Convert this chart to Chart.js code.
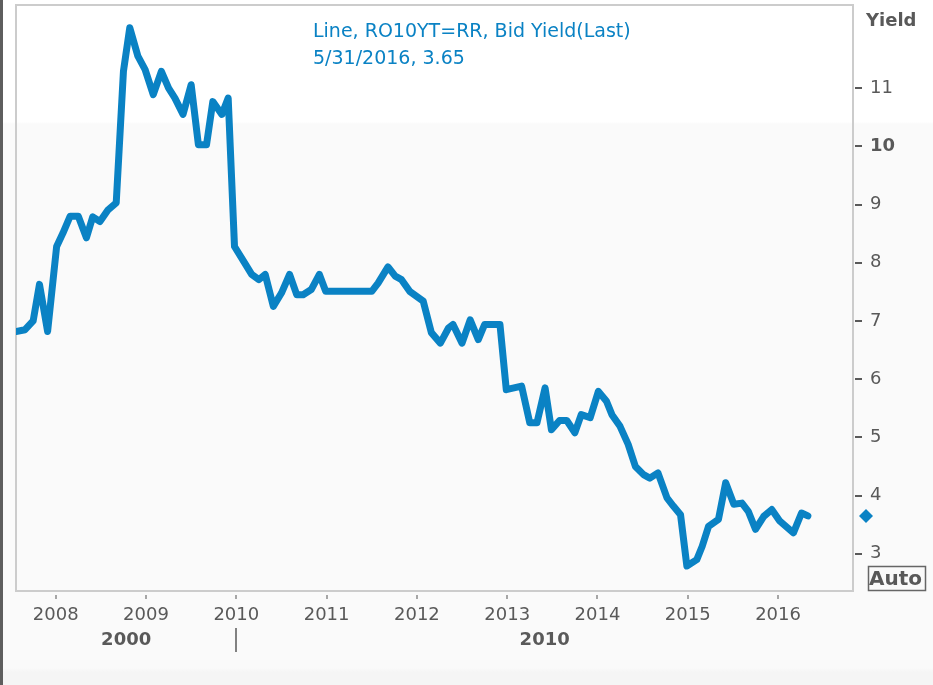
<!DOCTYPE html>
<html>
<head>
<meta charset="utf-8">
<script src="https://cdn.jsdelivr.net/npm/chart.js@4/dist/chart.umd.min.js"></script>
<style>
    html, body { margin: 0; padding: 0; }
    body {
        width: 933px; height: 685px; overflow: hidden;
        background: linear-gradient(to bottom, #ffffff 0px, #ffffff 122px, #fafafa 124px, #fafafa 668px, #f5f5f5 672px, #f5f5f5 685px);
    }
    #chart { display: block; }
</style>
</head>
<body>
<canvas id="chart" width="933" height="685"></canvas>
<script>
const years = [
    2007.56, 2007.66, 2007.75, 2007.82, 2007.91, 2008.01, 2008.08, 2008.16, 2008.25, 2008.34,
    2008.41, 2008.49, 2008.58, 2008.67, 2008.75, 2008.82, 2008.91, 2008.99, 2009.08, 2009.17,
    2009.25, 2009.32, 2009.41, 2009.50, 2009.58, 2009.67, 2009.74, 2009.84, 2009.91, 2009.98,
    2010.08, 2010.17, 2010.25, 2010.32, 2010.41, 2010.50, 2010.59, 2010.67, 2010.74, 2010.83,
    2010.92, 2010.99, 2011.50, 2011.57, 2011.68, 2011.76, 2011.83, 2011.92, 2012.07, 2012.16,
    2012.26, 2012.35, 2012.40, 2012.50, 2012.59, 2012.68, 2012.75, 2012.92, 2012.99, 2013.16,
    2013.25, 2013.33, 2013.42, 2013.49, 2013.58, 2013.66, 2013.75, 2013.82, 2013.92, 2014.01,
    2014.10, 2014.16, 2014.25, 2014.34, 2014.42, 2014.51, 2014.58, 2014.67, 2014.77, 2014.84,
    2014.92, 2014.99, 2015.10, 2015.16, 2015.23, 2015.34, 2015.42, 2015.51, 2015.60, 2015.67,
    2015.75, 2015.84, 2015.93, 2016.02, 2016.17, 2016.26, 2016.33
];
const yields = [
    6.82, 6.85, 7.00, 7.63, 6.82, 8.28, 8.51, 8.80, 8.80, 8.43,
    8.79, 8.71, 8.91, 9.03, 11.29, 12.04, 11.55, 11.32, 10.89, 11.29,
    11.00, 10.83, 10.55, 11.06, 10.03, 10.03, 10.77, 10.55, 10.83, 8.28,
    8.03, 7.80, 7.71, 7.80, 7.25, 7.48, 7.80, 7.45, 7.45, 7.54,
    7.80, 7.51, 7.51, 7.65, 7.93, 7.77, 7.71, 7.51, 7.34, 6.80,
    6.62, 6.88, 6.94, 6.62, 7.02, 6.68, 6.94, 6.94, 5.82, 5.88,
    5.25, 5.25, 5.85, 5.13, 5.29, 5.29, 5.08, 5.39, 5.34, 5.79,
    5.62, 5.39, 5.19, 4.88, 4.50, 4.36, 4.30, 4.39, 3.96, 3.82,
    3.67, 2.79, 2.90, 3.13, 3.47, 3.59, 4.22, 3.85, 3.87, 3.73,
    3.42, 3.64, 3.76, 3.56, 3.36, 3.70, 3.65
];

const xTicks = [2008, 2009, 2010, 2011, 2012, 2013, 2014, 2015, 2016];
const yTicks = [3, 4, 5, 6, 7, 8, 9, 10, 11];
const boldYTick = 10;

// decade row under the year labels: label, from, to
const decades = [
    { label: '2000', from: 2007.56, to: 2010 },
    { label: '2010', from: 2010, to: 2016.83 }
];

const lastDate = '5/31/2016';
const lastValue = 3.65;
const seriesName = 'Line, RO10YT=RR, Bid Yield(Last)';

const BLUE = '#0a82c4';
const GREY = '#595959';
const FONT = '"DejaVu Sans", Verdana, sans-serif';

const decor = {
    id: 'decor',
    beforeDatasetsDraw(chart) {
        const { ctx, chartArea: a } = chart;
        ctx.save();
        ctx.strokeStyle = '#cccccc';
        ctx.lineWidth = 2;
        ctx.strokeRect(a.left, a.top, a.right - a.left, a.bottom - a.top);
        ctx.restore();
    },
    afterDraw(chart) {
        const { ctx, chartArea: a } = chart;
        const xs = chart.scales.x, ys = chart.scales.y;
        ctx.save();

        // left edge bar
        ctx.fillStyle = '#5e5e5e';
        ctx.fillRect(0, 0, 3, chart.height);

        // y tick marks
        ctx.strokeStyle = GREY;
        ctx.lineWidth = 2;
        yTicks.forEach(v => {
            const y = Math.round(ys.getPixelForValue(v));
            ctx.beginPath();
            ctx.moveTo(a.right + 2, y);
            ctx.lineTo(a.right + 9, y);
            ctx.stroke();
        });

        // x tick marks
        ctx.strokeStyle = '#8a8a8a';
        ctx.lineWidth = 1.5;
        xTicks.forEach(v => {
            const x = Math.round(xs.getPixelForValue(v));
            ctx.beginPath();
            ctx.moveTo(x, a.bottom + 4);
            ctx.lineTo(x, a.bottom + 8);
            ctx.stroke();
        });

        // decade labels
        ctx.fillStyle = GREY;
        ctx.font = 'bold 18px ' + FONT;
        ctx.textAlign = 'center';
        ctx.textBaseline = 'middle';
        decades.forEach(d => {
            const x = (xs.getPixelForValue(d.from) + xs.getPixelForValue(d.to)) / 2;
            ctx.fillText(d.label, x, 640);
        });
        ctx.strokeStyle = GREY;
        ctx.lineWidth = 1.5;
        const sep = Math.round(xs.getPixelForValue(decades[1].from));
        ctx.beginPath();
        ctx.moveTo(sep, 628);
        ctx.lineTo(sep, 652);
        ctx.stroke();

        // axis title
        ctx.textAlign = 'left';
        ctx.fillText('Yield', 866, 21);

        // Auto box
        ctx.strokeStyle = '#666666';
        ctx.lineWidth = 1.5;
        ctx.strokeRect(868.5, 566.5, 57, 24);
        ctx.font = 'bold 20px ' + FONT;
        ctx.fillText('Auto', 869, 580);

        // last value diamond
        const dy = ys.getPixelForValue(lastValue);
        ctx.fillStyle = BLUE;
        ctx.beginPath();
        ctx.moveTo(866, dy - 7);
        ctx.lineTo(873, dy);
        ctx.lineTo(866, dy + 7);
        ctx.lineTo(859, dy);
        ctx.closePath();
        ctx.fill();

        // legend
        ctx.fillStyle = BLUE;
        ctx.font = '19px ' + FONT;
        ctx.fillText(seriesName, 313, 32);
        ctx.fillText(lastDate + ', ' + lastValue.toFixed(2), 313, 59);

        ctx.restore();
    }
};

new Chart(document.getElementById('chart'), {
    type: 'line',
    data: {
        datasets: [{
            data: years.map((x, i) => ({ x: x, y: yields[i] })),
            borderColor: BLUE,
            borderWidth: 7,
            borderJoinStyle: 'round',
            borderCapStyle: 'round',
            pointRadius: 0,
            tension: 0,
            fill: false
        }]
    },
    options: {
        responsive: false,
        animation: false,
        layout: { autoPadding: false, padding: { left: 16, top: 5, right: 0, bottom: 0 } },
        plugins: {
            legend: { display: false },
            tooltip: { enabled: false }
        },
        scales: {
            x: {
                type: 'linear',
                min: 2007.56,
                max: 2016.83,
                afterBuildTicks: s => { s.ticks = xTicks.map(v => ({ value: v })); },
                afterFit: s => { s.height = 94; s.paddingLeft = 0; s.paddingRight = 0; },
                grid: { display: false },
                border: { display: false },
                ticks: {
                    color: GREY,
                    font: { family: FONT, size: 18 },
                    padding: 6,
                    maxRotation: 0,
                    callback: v => String(v)
                }
            },
            y: {
                position: 'right',
                min: 2.36,
                max: 12.43,
                afterBuildTicks: s => { s.ticks = yTicks.map(v => ({ value: v })); },
                afterFit: s => { s.width = 80; s.paddingTop = 0; s.paddingBottom = 0; },
                grid: { display: false },
                border: { display: false },
                ticks: {
                    color: GREY,
                    padding: 9,
                    font: ctx => ({
                        family: FONT,
                        size: 18,
                        weight: ctx.tick && ctx.tick.value === boldYTick ? 'bold' : 'normal'
                    }),
                    callback: v => String(v)
                }
            }
        }
    },
    plugins: [decor]
});
</script>
</body>
</html>
